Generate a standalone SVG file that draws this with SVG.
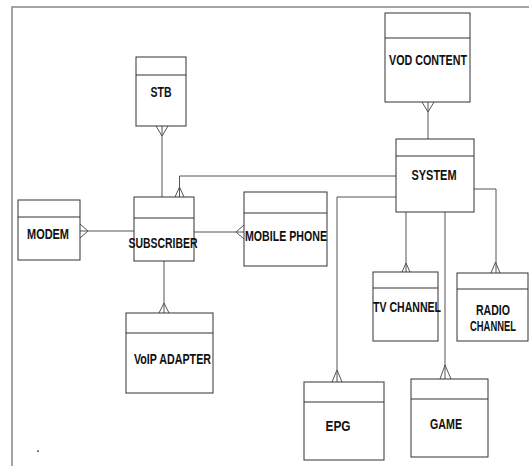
<svg xmlns="http://www.w3.org/2000/svg" width="529" height="466" viewBox="0 0 529 466">
<style>
.box{fill:#fff;stroke:#333;stroke-width:1}
.div{stroke:#333;stroke-width:1;fill:none}
.con{fill:none;stroke:#555;stroke-width:1}
.frame{fill:none;stroke:#888;stroke-width:1.5}
text{font-family:"Liberation Sans",Arial,sans-serif;font-weight:bold;font-size:14.5px;fill:#111;text-anchor:middle}
</style>
<rect width="529" height="466" fill="#fff"/>
<path class="frame" d="M12,466 V7 H529"/>
<rect x="37" y="450.5" width="2" height="1.2" fill="#333"/>
<g id="connectors">
<path class="con" d="M162,126 V197 M156,126 L162,136 L168,126"/>
<path class="con" d="M428,102 V139 M422,102 L428,112 L434,102"/>
<path class="con" d="M396,176 H179.5 V197 M175,197 L179.5,187 L184,197"/>
<path class="con" d="M80,231 H134 M80,224 L88,231 L80,238"/>
<path class="con" d="M194,232 H244 M244,225 L236,232 L244,239"/>
<path class="con" d="M396,197 H337 V382 M332,382 L337,370 L342,382"/>
<path class="con" d="M406,212 V272 M402,272 L406,263 L410,272"/>
<path class="con" d="M445,212 V379 M440,379 L445,365 L451,379"/>
<path class="con" d="M474,189 H496 V273 M491,273 L495.5,262 L500,273"/>
<path class="con" d="M164,261 V313 M159,313 L164,303 L169,313"/>
</g>
<g id="stb"><rect class="box" x="136" y="57" width="50" height="69"/><path class="div" d="M136,75 H186"/><text x="161" y="97" textLength="21" lengthAdjust="spacingAndGlyphs">STB</text></g>
<g id="vod"><rect class="box" x="385" y="13" width="85" height="89"/><path class="div" d="M385,38 H470"/><text x="428" y="64.5" textLength="78" lengthAdjust="spacingAndGlyphs">VOD CONTENT</text></g>
<g id="system"><rect class="box" x="396" y="139" width="78" height="73"/><path class="div" d="M396,156 H474"/><text x="434" y="180" textLength="45" lengthAdjust="spacingAndGlyphs">SYSTEM</text></g>
<g id="modem"><rect class="box" x="18" y="200" width="62" height="60"/><path class="div" d="M18,217 H80"/><text x="48" y="239" textLength="42" lengthAdjust="spacingAndGlyphs">MODEM</text></g>
<g id="subscriber"><rect class="box" x="134" y="197" width="60" height="64"/><path class="div" d="M134,218 H194"/><text x="163" y="247.5" textLength="69" lengthAdjust="spacingAndGlyphs">SUBSCRIBER</text></g>
<g id="mobile"><rect class="box" x="244" y="192" width="83" height="74"/><path class="div" d="M244,213 H327"/><text x="286" y="241" textLength="82" lengthAdjust="spacingAndGlyphs">MOBILE PHONE</text></g>
<g id="tv"><rect class="box" x="373" y="272" width="65" height="69"/><path class="div" d="M373,288 H438"/><text x="407" y="312" textLength="68" lengthAdjust="spacingAndGlyphs">TV CHANNEL</text></g>
<g id="radio"><rect class="box" x="457" y="273" width="71" height="68"/><path class="div" d="M457,289 H528"/><text x="493" y="315" textLength="34" lengthAdjust="spacingAndGlyphs">RADIO</text><text x="493" y="331" textLength="46" lengthAdjust="spacingAndGlyphs">CHANNEL</text></g>
<g id="epg"><rect class="box" x="304" y="382" width="80" height="78"/><path class="div" d="M304,402 H384"/><text x="338" y="431" textLength="25" lengthAdjust="spacingAndGlyphs">EPG</text></g>
<g id="game"><rect class="box" x="411" y="379" width="77" height="78"/><path class="div" d="M411,399 H488"/><text x="446" y="429" textLength="32" lengthAdjust="spacingAndGlyphs">GAME</text></g>
<g id="voip"><rect class="box" x="126" y="313" width="87" height="80"/><path class="div" d="M126,333 H213"/><text x="172.5" y="364" textLength="77" lengthAdjust="spacingAndGlyphs">VoIP ADAPTER</text></g>
</svg>
